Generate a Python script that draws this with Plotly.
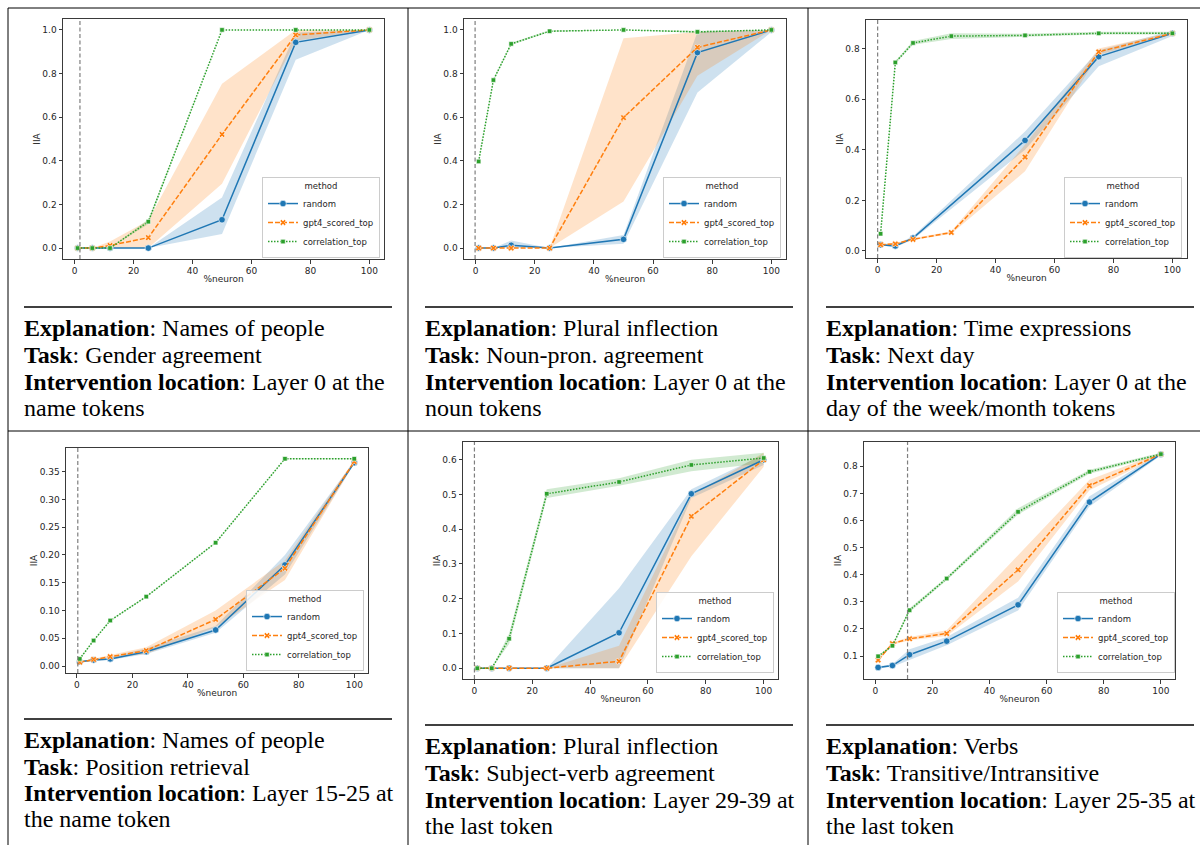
import plotly.graph_objects as go

# ---------------- data ----------------
PCT_NEURON = [1, 6, 12, 25, 50, 75, 100]
METHODS = ["random", "gpt4_scored_top", "correlation_top"]

# Panel 1: Names of people / Gender agreement
P1_RANDOM = [0, 0, 0, 0, 0.130, 0.943, 1.0]
P1_RANDOM_LO = [0, 0, 0, 0, 0.065, 0.863, 1.0]
P1_RANDOM_HI = [0, 0, 0, 0, 0.232, 0.988, 1.0]
P1_GPT4 = [0, 0, 0.012, 0.048, 0.521, 0.977, 1.0]
P1_GPT4_LO = [0, 0, 0, 0, 0.295, 0.950, 1.0]
P1_GPT4_HI = [0, 0, 0.030, 0.127, 0.753, 1.0, 1.0]
P1_CORR = [0, 0, 0, 0.121, 1.0, 1.0, 1.0]
P1_CORR_LO = [0, 0, 0, 0.110, 1.0, 1.0, 1.0]
P1_CORR_HI = [0, 0, 0, 0.132, 1.0, 1.0, 1.0]
P1_VLINE = 1.8

# Panel 2: Plural inflection / Noun-pron. agreement
P2_RANDOM = [0, 0, 0.013, 0, 0.040, 0.896, 1.0]
P2_RANDOM_LO = [0, 0, 0, 0, 0.020, 0.713, 0.990]
P2_RANDOM_HI = [0, 0, 0.035, 0, 0.060, 0.990, 1.0]
P2_GPT4 = [0, 0, 0, 0, 0.598, 0.920, 1.0]
P2_GPT4_LO = [0, 0, 0, 0, 0.213, 0.790, 1.0]
P2_GPT4_HI = [0, 0, 0, 0, 0.962, 0.990, 1.0]
P2_CORR = [0.397, 0.770, 0.936, 0.994, 1.0, 0.991, 1.0]
P2_CORR_LO = [0.392, 0.765, 0.931, 0.990, 1.0, 0.986, 1.0]
P2_CORR_HI = [0.402, 0.775, 0.941, 0.998, 1.0, 0.996, 1.0]
P2_VLINE = -0.2

# Panel 3: Time expressions / Next day (no random point visible at 25%)
P3_RANDOM = [0.025, 0.020, 0.051, None, 0.437, 0.768, 0.860]
P3_RANDOM_LO = [0.022, 0.015, 0.045, None, 0.400, 0.730, 0.850]
P3_RANDOM_HI = [0.028, 0.025, 0.058, None, 0.472, 0.793, 0.870]
P3_GPT4 = [0.025, 0.028, 0.046, 0.073, 0.371, 0.787, 0.860]
P3_GPT4_LO = [0.022, 0.024, 0.042, 0.068, 0.315, 0.775, 0.855]
P3_GPT4_HI = [0.028, 0.032, 0.050, 0.078, 0.420, 0.800, 0.865]
P3_CORR = [0.068, 0.745, 0.822, 0.849, 0.852, 0.860, 0.860]
P3_CORR_LO = [0.065, 0.740, 0.815, 0.838, 0.847, 0.855, 0.855]
P3_CORR_HI = [0.071, 0.750, 0.830, 0.860, 0.858, 0.866, 0.866]
P3_VLINE = 0

# Panel 4: Names of people / Position retrieval
P4_RANDOM = [0.008, 0.011, 0.013, 0.026, 0.065, 0.182, 0.366]
P4_RANDOM_LO = [0.007, 0.009, 0.011, 0.022, 0.060, 0.165, 0.364]
P4_RANDOM_HI = [0.009, 0.013, 0.016, 0.032, 0.072, 0.200, 0.369]
P4_GPT4 = [0.007, 0.012, 0.017, 0.028, 0.084, 0.176, 0.368]
P4_GPT4_LO = [0.006, 0.010, 0.015, 0.022, 0.070, 0.155, 0.365]
P4_GPT4_HI = [0.008, 0.014, 0.020, 0.034, 0.100, 0.190, 0.371]
P4_CORR = [0.013, 0.046, 0.082, 0.125, 0.222, 0.373, 0.373]
P4_CORR_LO = [0.012, 0.045, 0.081, 0.124, 0.221, 0.372, 0.372]
P4_CORR_HI = [0.014, 0.047, 0.083, 0.126, 0.223, 0.374, 0.374]
P4_VLINE = 0.3

# Panel 5: Plural inflection / Subject-verb agreement
P5_RANDOM = [0, 0, 0, 0, 0.102, 0.502, 0.600]
P5_RANDOM_LO = [0, 0, 0, 0, 0.0, 0.490, 0.585]
P5_RANDOM_HI = [0, 0, 0, 0, 0.230, 0.515, 0.615]
P5_GPT4 = [0, 0, 0, 0, 0.020, 0.437, 0.600]
P5_GPT4_LO = [0, 0, 0, 0, 0.0, 0.322, 0.580]
P5_GPT4_HI = [0, 0, 0, 0, 0.065, 0.497, 0.620]
P5_CORR = [0, 0, 0.085, 0.502, 0.536, 0.585, 0.605]
P5_CORR_LO = [0, 0, 0.070, 0.490, 0.525, 0.567, 0.590]
P5_CORR_HI = [0, 0, 0.100, 0.515, 0.547, 0.600, 0.620]
P5_VLINE = 0

# Panel 6: Verbs / Transitive/Intransitive
P6_RANDOM = [0.058, 0.065, 0.105, 0.155, 0.289, 0.668, 0.845]
P6_RANDOM_LO = [0.055, 0.060, 0.085, 0.140, 0.268, 0.652, 0.840]
P6_RANDOM_HI = [0.062, 0.070, 0.125, 0.170, 0.315, 0.690, 0.850]
P6_GPT4 = [0.085, 0.146, 0.164, 0.183, 0.418, 0.729, 0.845]
P6_GPT4_LO = [0.080, 0.142, 0.158, 0.174, 0.375, 0.712, 0.840]
P6_GPT4_HI = [0.090, 0.150, 0.170, 0.195, 0.472, 0.750, 0.850]
P6_CORR = [0.099, 0.138, 0.269, 0.386, 0.632, 0.780, 0.845]
P6_CORR_LO = [0.095, 0.134, 0.262, 0.380, 0.622, 0.773, 0.840]
P6_CORR_HI = [0.103, 0.142, 0.276, 0.392, 0.645, 0.787, 0.850]
P6_VLINE = 11.3

EXPLANATIONS = ["Names of people", "Plural inflection", "Time expressions",
                "Names of people", "Plural inflection", "Verbs"]
TASKS = ["Gender agreement", "Noun-pron. agreement", "Next day",
         "Position retrieval", "Subject-verb agreement", "Transitive/Intransitive"]
LOCATIONS_1 = ["Layer 0 at the", "Layer 0 at the", "Layer 0 at the",
               "Layer 15-25 at", "Layer 29-39 at", "Layer 25-35 at"]
LOCATIONS_2 = ["name tokens", "noun tokens", "day of the week/month tokens",
               "the name token", "the last token", "the last token"]

# ---------------- assembly ----------------
panels = [
    ([P1_RANDOM, P1_GPT4, P1_CORR], [P1_RANDOM_LO, P1_GPT4_LO, P1_CORR_LO], [P1_RANDOM_HI, P1_GPT4_HI, P1_CORR_HI], P1_VLINE),
    ([P2_RANDOM, P2_GPT4, P2_CORR], [P2_RANDOM_LO, P2_GPT4_LO, P2_CORR_LO], [P2_RANDOM_HI, P2_GPT4_HI, P2_CORR_HI], P2_VLINE),
    ([P3_RANDOM, P3_GPT4, P3_CORR], [P3_RANDOM_LO, P3_GPT4_LO, P3_CORR_LO], [P3_RANDOM_HI, P3_GPT4_HI, P3_CORR_HI], P3_VLINE),
    ([P4_RANDOM, P4_GPT4, P4_CORR], [P4_RANDOM_LO, P4_GPT4_LO, P4_CORR_LO], [P4_RANDOM_HI, P4_GPT4_HI, P4_CORR_HI], P4_VLINE),
    ([P5_RANDOM, P5_GPT4, P5_CORR], [P5_RANDOM_LO, P5_GPT4_LO, P5_CORR_LO], [P5_RANDOM_HI, P5_GPT4_HI, P5_CORR_HI], P5_VLINE),
    ([P6_RANDOM, P6_GPT4, P6_CORR], [P6_RANDOM_LO, P6_GPT4_LO, P6_CORR_LO], [P6_RANDOM_HI, P6_GPT4_HI, P6_CORR_HI], P6_VLINE),
]

W, H = 1200, 845
COLORS = ["#1f77b4", "#ff7f0e", "#2ca02c"]
FILLS = ["rgba(31,119,180,0.22)", "rgba(255,127,14,0.22)", "rgba(44,160,44,0.22)"]
DASHES = ["solid", "5px,2px", "1.5px,1.5px"]
SYMBOLS = ["circle", "x", "square"]
SIZES = [6.5, 5.5, 4.5]

# pixel boxes of each axes: (left, right, top, bottom)
AX_BOX = [(63, 384, 19, 259), (464, 786, 19, 259), (866, 1187, 20, 258),
          (66, 368, 448, 673), (463, 778, 442, 679), (864, 1175, 442, 679)]
LEG_POS = [(380, 258), (781, 258), (1182, 258), (364, 671), (774, 673), (1175, 673)]
Y_DTICK = [0.2, 0.2, 0.2, 0.05, 0.1, 0.1]
Y_FMT = [".1f", ".1f", ".1f", ".2f", ".1f", ".1f"]
TEXT_X = [24, 425, 826, 24, 425, 826]
RULE_Y = [307, 307, 307, 719, 725, 725]
TEXT_Y = [[328, 355, 382, 408], [328, 355, 382, 408], [328, 355, 382, 408],
          [740, 767, 793, 819], [746, 773, 800, 826], [746, 773, 800, 826]]

def px(x):
    return x / W

def py(y):
    return 1 - y / H

fig = go.Figure()
layout = dict(width=W, height=H, margin=dict(l=0, r=0, t=0, b=0),
              paper_bgcolor="white", plot_bgcolor="white", showlegend=True)
shapes = []
annotations = []
TICKFONT = dict(family="DejaVu Sans", size=9, color="#262626")

for i, (means, los, his, vline) in enumerate(panels):
    n = i + 1
    xa = "x" if n == 1 else f"x{n}"
    ya = "y" if n == 1 else f"y{n}"
    leg = "legend" if n == 1 else f"legend{n}"
    # bands (skip missing points)
    for k in range(3):
        pts = [(xv, lo, hi) for xv, lo, hi in zip(PCT_NEURON, los[k], his[k]) if lo is not None]
        bx = [p[0] for p in pts]
        fig.add_trace(go.Scatter(
            x=bx + bx[::-1], y=[p[2] for p in pts] + [p[1] for p in pts][::-1],
            fill="toself", fillcolor=FILLS[k], line=dict(width=0),
            mode="lines", hoverinfo="skip", showlegend=False,
            xaxis=xa, yaxis=ya))
    # lines
    for k in range(3):
        fig.add_trace(go.Scatter(
            x=PCT_NEURON, y=means[k], name=METHODS[k], mode="lines+markers",
            connectgaps=True,
            line=dict(color=COLORS[k], width=1.5, dash=DASHES[k]),
            marker=dict(symbol=SYMBOLS[k], size=SIZES[k], color=COLORS[k],
                        line=dict(color="white", width=0.6)),
            legend=leg, xaxis=xa, yaxis=ya))
    l, r, t, b = AX_BOX[i]
    ymin = min(min(v for v in s if v is not None) for s in los)
    ymax = max(max(v for v in s if v is not None) for s in his)
    pad = (ymax - ymin) * 0.05
    xpad = (PCT_NEURON[-1] - PCT_NEURON[0]) * 0.05
    axis_common = dict(showline=True, mirror=True, linecolor="#3a3a3a", linewidth=1,
                       ticks="outside", ticklen=3.5, tickcolor="#3a3a3a", tickwidth=1,
                       showgrid=False, zeroline=False, tickfont=TICKFONT)
    layout["xaxis" if n == 1 else f"xaxis{n}"] = dict(
        domain=[px(l), px(r)], anchor=ya,
        range=[PCT_NEURON[0] - xpad, PCT_NEURON[-1] + xpad],
        tick0=0, dtick=20,
        title=dict(text="%neuron", font=TICKFONT, standoff=0), **axis_common)
    layout["yaxis" if n == 1 else f"yaxis{n}"] = dict(
        domain=[py(b), py(t)], anchor=xa,
        range=[ymin - pad, ymax + pad], tick0=0, dtick=Y_DTICK[i], tickformat=Y_FMT[i],
        title=dict(text="IIA", font=TICKFONT, standoff=0), **axis_common)
    lx, ly = LEG_POS[i]
    layout[leg] = dict(
        x=px(lx), y=py(ly), xanchor="right", yanchor="bottom",
        bgcolor="rgba(255,255,255,0.85)", bordercolor="#cccccc", borderwidth=1,
        font=dict(family="DejaVu Sans", size=8.5, color="#262626"),
        title=dict(text="method", side="top center",
                   font=dict(family="DejaVu Sans", size=8.5, color="#262626")),
        tracegroupgap=0, itemwidth=30)
    # vertical dashed reference line
    shapes.append(dict(type="line", xref=xa, yref=f"{ya} domain",
                       x0=vline, x1=vline, y0=0, y1=1,
                       line=dict(color="#7f7f7f", width=1.2, dash="4px,2.5px")))
    # text block
    tx = TEXT_X[i]
    shapes.append(dict(type="line", xref="paper", yref="paper",
                       x0=px(tx), x1=px(tx + 368), y0=py(RULE_Y[i]), y1=py(RULE_Y[i]),
                       line=dict(color="black", width=1.5)))
    lines = [f"<b>Explanation</b>: {EXPLANATIONS[i]}",
             f"<b>Task</b>: {TASKS[i]}",
             f"<b>Intervention location</b>: {LOCATIONS_1[i]}",
             LOCATIONS_2[i]]
    for txt, yy in zip(lines, TEXT_Y[i]):
        annotations.append(dict(text=txt, xref="paper", yref="paper",
                                x=px(tx - 2), y=py(yy), xanchor="left", yanchor="middle",
                                showarrow=False, align="left",
                                font=dict(family="Liberation Serif", size=24, color="black")))

# table grid
for xv in (8, 408, 808):
    shapes.append(dict(type="line", xref="paper", yref="paper",
                       x0=px(xv), x1=px(xv), y0=0, y1=py(8),
                       line=dict(color="black", width=1)))
for yv in (8, 431):
    shapes.append(dict(type="line", xref="paper", yref="paper",
                       x0=px(8), x1=1, y0=py(yv), y1=py(yv),
                       line=dict(color="black", width=1)))

layout["shapes"] = shapes
layout["annotations"] = annotations
fig.update_layout(**layout)
fig.write_html("out.html", config={"displayModeBar": False},
               post_script="document.body.style.margin='0';document.body.style.overflow='hidden';")
